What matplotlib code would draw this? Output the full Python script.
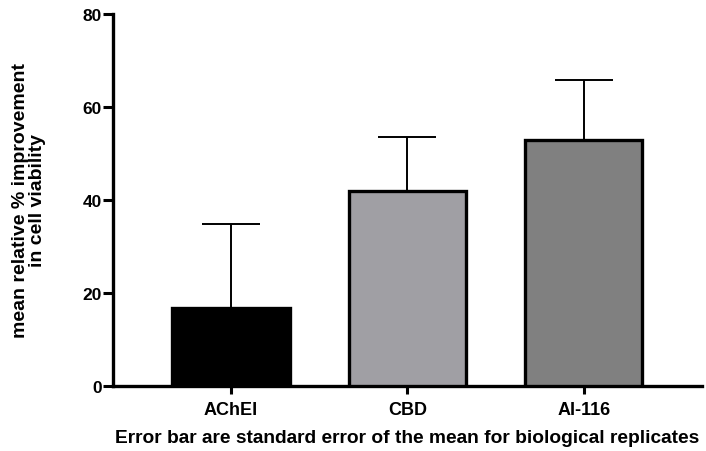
import matplotlib.pyplot as plt

plt.rcParams['font.family'] = ['Liberation Sans', 'DejaVu Sans']
plt.rcParams['font.weight'] = 'bold'

groups = ["AChEI", "CBD", "AI-116"]
means = [16.8, 42.0, 52.8]
sems = [18.0, 11.6, 12.9]
fills = ["#000000", "#a09fa4", "#808080"]

fig = plt.figure(figsize=(7.06, 4.52), dpi=100)
ax = fig.add_axes([0.160, 0.144, 0.834, 0.823])

x = range(len(groups))
ax.bar(x, means, width=0.665, color=fills, edgecolor="black", linewidth=2.4, zorder=3)
ax.errorbar(x, means, yerr=[[0] * len(sems), sems], fmt="none", ecolor="black",
            elinewidth=1.4, capsize=21, capthick=1.4, zorder=2)

ax.set_xlim(-0.67, 2.67)
ax.set_ylim(0, 80)
ax.set_yticks([0, 20, 40, 60, 80])
ax.set_xticks(list(x))
ax.set_xticklabels(groups, fontsize=13, fontweight="bold")
ax.tick_params(axis="y", labelsize=12.5, width=2.2, length=7, pad=1, direction="out")
ax.tick_params(axis="x", width=2.2, length=6, direction="out", pad=5)
for lab in ax.get_yticklabels():
    lab.set_fontweight("bold")

for s in ["top", "right"]:
    ax.spines[s].set_visible(False)
for s in ["left", "bottom"]:
    ax.spines[s].set_linewidth(2.4)

ax.set_ylabel("mean relative % improvement\nin cell viability", fontsize=14,
              fontweight="bold", linespacing=0.95)
ax.yaxis.set_label_coords(-0.114, 0.5)
ax.set_xlabel("Error bar are standard error of the mean for biological replicates",
              fontsize=13.8, fontweight="bold", labelpad=8)

fig.savefig("out.png", dpi=100)
